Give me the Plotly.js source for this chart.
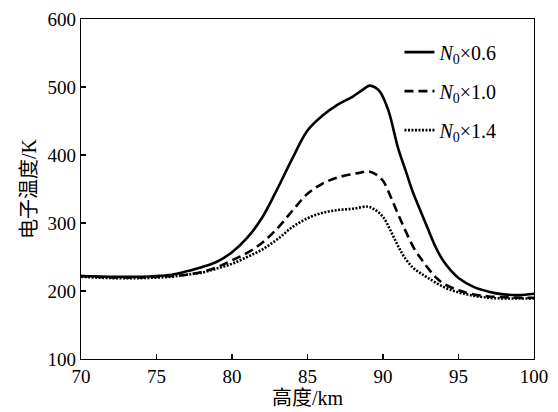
<!DOCTYPE html>
<html><head><meta charset="utf-8">
<script src="https://cdn.plot.ly/plotly-3.0.1.min.js"></script>
<style>html,body{margin:0;padding:0;background:#fff}#c{width:558px;height:412px}</style>
</head><body><div id="c"></div>
<script>
var xA = [70,72,74,75,76,77,78,79,80,81,82,83,84,85,86,87,88,88.6,89.1,89.5,89.8,90.35,91,91.5,92,92.5,93,93.5,94,94.5,95,96,97,98,99,100];
var yA = [222,221,221,222,224,229,235,243,257,278,308,350,395,436,458,474,486,495,502,499,493,466,410,377,344,317,290,264,244,230,219,206,199,195,194,196];
var xB = [70,72,74,76,77,78,79,80,81,82,83,84,85,86,87,88,88.5,89,89.5,90,90.5,91,91.5,92,92.5,93,93.5,94,95,96,97,98,99,100];
var yB = [222,220,220,222,224,228,235,245,256,271,292,318,343,358,367,372,374,376,372,362,339,313,288,265,248,233,220,211,201,195,192,191,190,190];
var xC = [70,72,74,76,77,78,79,80,81,82,83,84,85,86,87,88,89,89.5,90,90.5,91,91.5,92,92.5,93,94,95,96,97,98,99,100];
var yC = [221,219,219,221,224,227,233,240,250,261,276,294,307,315,319,321,324,319,309,289,266,247,234,226,219,206,198,193,190,189,189,189];
var names = ['<i>N</i><sub>0</sub>×0.6','<i>N</i><sub>0</sub>×1.0','<i>N</i><sub>0</sub>×1.4'];
var xTicks = [70,75,80,85,90,95,100];
var yTicks = [100,200,300,400,500,600];

var font = 'Liberation Serif, Times New Roman, Noto Sans CJK SC, serif';
var traces = [
  {x:xA,y:yA,name:names[0],legendgroup:'a',mode:'lines',line:{color:'#000',width:2.6,shape:'spline',smoothing:1}},
  {x:xB,y:yB,name:names[1],legendgroup:'b',mode:'lines',line:{color:'#000',width:2.6,dash:'9px,5px',shape:'spline',smoothing:1}},
  {x:xC,y:yC,name:names[2],legendgroup:'c',mode:'lines',line:{color:'#000',width:2.6,dash:'2px,1.5px',shape:'spline',smoothing:1}}
];
var layout = {
  width:558,height:412,
  margin:{l:81,r:24,t:19,b:53},
  paper_bgcolor:'#fff',plot_bgcolor:'#fff',
  font:{family:font,size:19,color:'#000'},
  showlegend:true,
  legend:{x:0.703,y:0.96,xanchor:'left',yanchor:'top',bgcolor:'rgba(0,0,0,0)',tracegroupgap:10,font:{family:font,size:20,color:'#000'},itemwidth:30},
  xaxis:{range:[70,100],tickvals:xTicks,ticktext:xTicks.map(String),ticks:'inside',ticklen:5,tickwidth:1.3,tickcolor:'#000',
    showline:true,linecolor:'#000',linewidth:1.3,mirror:true,showgrid:false,zeroline:false,
    tickfont:{family:font,size:19},
    title:{text:'高度/km',font:{family:font,size:20},standoff:3}},
  yaxis:{range:[100,600],tickvals:yTicks,ticktext:yTicks.map(String),ticks:'inside',ticklen:5,tickwidth:1.3,tickcolor:'#000',
    showline:true,linecolor:'#000',linewidth:1.3,mirror:true,showgrid:false,zeroline:false,
    tickfont:{family:font,size:19},
    title:{text:'电子温度/K',font:{family:font,size:20},standoff:5}}
};
Plotly.newPlot('c',traces,layout,{displayModeBar:false,staticPlot:true});
</script></body></html>
